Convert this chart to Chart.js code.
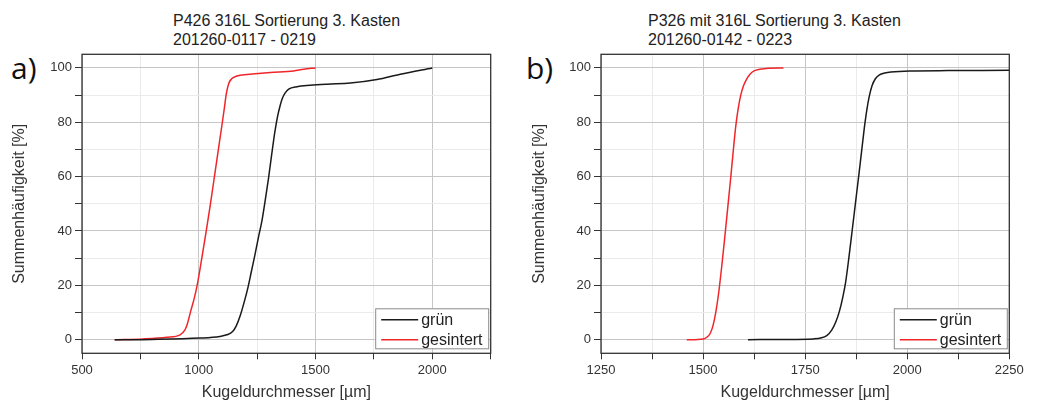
<!DOCTYPE html>
<html>
<head>
<meta charset="utf-8">
<script src="https://cdn.jsdelivr.net/npm/chart.js@4.4.1/dist/chart.umd.min.js"></script>
<style>
  html, body { margin: 0; padding: 0; background: #fff; }
  body { width: 1037px; height: 406px; position: relative; overflow: hidden; }
  canvas { position: absolute; top: 0; }
  .ttl { position: absolute; font-family: "Liberation Sans", Arial, sans-serif; font-size: 16px; line-height: 19px; color: #222; white-space: nowrap; }
  .lab { position: absolute; font-family: "Open Sans", "DejaVu Sans", sans-serif; font-size: 30px; line-height: 30px; color: #111; }
</style>
</head>
<body>
<div class="ttl" id="t1" style="left:173px; top:11px;"></div>
<div class="ttl" id="t2" style="left:648px; top:11px;"></div>
<div class="lab" style="left:11px; top:53px;">a)</div>
<div class="lab" style="left:526px; top:53px;">b)</div>
<canvas id="c1" width="520" height="406" style="left:0px"></canvas>
<canvas id="c2" width="517" height="406" style="left:520px"></canvas>
<script>
// ---------- data ----------
const titleA = ["P426 316L Sortierung 3. Kasten", "201260-0117 - 0219"];
const titleB = ["P326 mit 316L Sortierung 3. Kasten", "201260-0142 - 0223"];
const seriesNames = ["grün", "gesintert"];
const xAxisTitle = "Kugeldurchmesser [µm]";
const yAxisTitle = "Summenhäufigkeit [%]";

// chart a) gruen
const aGruenX = [640, 800, 1006, 1090, 1120, 1145, 1160, 1178, 1195, 1210, 1225, 1240, 1255, 1270, 1284, 1298, 1312, 1325, 1337, 1348, 1358, 1370, 1385, 1420, 1477, 1550, 1649, 1763, 1863, 2000];
const aGruenY = [0, 0.1, 0.6, 1.2, 1.8, 3, 5, 9, 14, 19, 25, 31, 37.5, 43.5, 51, 59, 68, 76, 82, 86, 88.8, 90.8, 92.2, 93.1, 93.6, 94, 94.4, 95.7, 97.7, 100];
// chart a) gesintert
const aSintX = [640, 760, 863, 920, 940, 950, 958, 966, 980, 993, 1013, 1032, 1050, 1067, 1084, 1101, 1110, 1118, 1128, 1141, 1160, 1177, 1240, 1306, 1406, 1449, 1500];
const aSintY = [0, 0.3, 0.9, 1.8, 3.5, 5.5, 8, 10.7, 15, 20, 30, 40, 50, 60, 70, 80, 85.5, 90.5, 94.2, 96, 96.9, 97.3, 97.8, 98.3, 98.9, 99.5, 100];
// chart b) gruen
const bGruenX = [1610, 1700, 1770, 1803, 1815, 1825, 1834, 1842, 1849, 1857, 1865, 1873, 1881, 1888, 1895, 1901, 1907, 1914, 1922, 1932, 1945, 1960, 2007, 2100, 2250];
const bGruenY = [0, 0.1, 0.3, 1.5, 3.5, 6.5, 10.5, 15.5, 21, 30, 40, 50, 60, 69, 78, 84.5, 89.5, 93.5, 96, 97.4, 98.1, 98.5, 98.9, 99.0, 99.1];
// chart b) gesintert
const bSintX = [1460, 1500, 1510, 1517, 1524, 1531, 1538, 1545, 1552, 1559, 1566, 1573, 1580, 1586, 1592, 1599, 1607, 1615, 1625, 1639, 1660, 1697];
const bSintY = [0, 0.3, 1, 2.2, 5, 10, 17, 26, 36, 46.5, 57, 68, 78.5, 85, 89.8, 93.4, 96, 97.7, 98.9, 99.5, 99.9, 100];

// axis ticks
const aXTicks = [500, 750, 1000, 1250, 1500, 1750, 2000, 2250];
const aXLabels = [500, 1000, 1500, 2000];
const bXTicks = [1250, 1375, 1500, 1625, 1750, 1875, 2000, 2125, 2250];
const bXLabels = [1250, 1500, 1750, 2000, 2250];
const yTicks = [0, 10, 20, 30, 40, 50, 60, 70, 80, 90, 100];
const yLabels = [0, 20, 40, 60, 80, 100];
const yRange = [-5, 105];
const aXRange = [500, 2250];
const bXRange = [1250, 2250];

// ---------- styling / build ----------
document.getElementById('t1').innerHTML = titleA.join('<br>');
document.getElementById('t2').innerHTML = titleB.join('<br>');

const FONT = '"Liberation Sans", Arial, sans-serif';
const pts = (xs, ys) => xs.map((x, i) => ({x: x, y: ys[i]}));

const framePlugin = {
  id: 'frame',
  afterDraw(chart) {
    const {ctx, chartArea: a} = chart;
    ctx.save();
    ctx.strokeStyle = '#333';
    ctx.lineWidth = 1.3;
    ctx.strokeRect(a.left, a.top, a.right - a.left, a.bottom - a.top);
    // legend
    const w = 113, h = 40;
    const x0 = a.right - 2.5 - w, y0 = a.bottom - 5 - h;
    ctx.fillStyle = '#fff';
    ctx.fillRect(x0, y0, w, h);
    ctx.strokeStyle = '#8a8a8a';
    ctx.lineWidth = 1;
    ctx.strokeRect(x0 + 0.5, y0 + 0.5, w, h);
    ctx.font = '16px ' + FONT;
    ctx.textBaseline = 'middle';
    ctx.textAlign = 'left';
    chart.data.datasets.forEach((ds, i) => {
      const yy = y0 + 11.5 + i * 20;
      ctx.strokeStyle = ds.borderColor;
      ctx.lineWidth = 1.5;
      ctx.beginPath();
      ctx.moveTo(x0 + 6, yy);
      ctx.lineTo(x0 + 43, yy);
      ctx.stroke();
      ctx.fillStyle = '#222';
      ctx.fillText(ds.label, x0 + 46, yy + 0.5);
    });
    ctx.restore();
  }
};

function makeChart(canvasId, gruen, sint, xTicks, xLabels, xRange, yAxisW, padRight) {
  return new Chart(document.getElementById(canvasId), {
    type: 'line',
    data: {
      datasets: [
        {label: seriesNames[0], data: gruen, borderColor: '#1a1a1a', borderWidth: 1.5, pointRadius: 0, cubicInterpolationMode: 'monotone', fill: false},
        {label: seriesNames[1], data: sint, borderColor: '#f0262b', borderWidth: 1.5, pointRadius: 0, cubicInterpolationMode: 'monotone', fill: false}
      ]
    },
    options: {
      responsive: false,
      animation: false,
      devicePixelRatio: 1,
      layout: {padding: {top: 54.3, right: padRight, bottom: 0, left: 0}},
      plugins: {legend: {display: false}, tooltip: {enabled: false}, title: {display: false}},
      scales: {
        x: {
          type: 'linear',
          min: xRange[0], max: xRange[1],
          afterBuildTicks: s => { s.ticks = xTicks.map(v => ({value: v})); },
          afterFit: s => { s.height = 52.7; },
          ticks: {
            autoSkip: false, maxRotation: 0, padding: 3, color: '#333',
            font: {family: FONT, size: 13},
            callback: v => xLabels.includes(v) ? String(v) : ''
          },
          grid: {
            color: c => (c.tick && xLabels.includes(c.tick.value)) ? '#c6c6c6' : '#ebebeb',
            lineWidth: 1, drawTicks: true, tickLength: 6, tickColor: '#333', tickWidth: 1
          },
          border: {display: false},
          title: {display: true, text: xAxisTitle, color: '#333', font: {family: FONT, size: 16}, padding: {top: 0, bottom: 3.4}}
        },
        y: {
          type: 'linear',
          min: yRange[0], max: yRange[1],
          afterBuildTicks: s => { s.ticks = yTicks.map(v => ({value: v})); },
          afterFit: s => { s.width = yAxisW; },
          ticks: {
            autoSkip: false, padding: 3, color: '#333',
            font: {family: FONT, size: 13},
            callback: v => yLabels.includes(v) ? String(v) : ''
          },
          grid: {
            color: c => (c.tick && yLabels.includes(c.tick.value)) ? '#c6c6c6' : '#ebebeb',
            lineWidth: 1, drawTicks: true, tickLength: 7, tickColor: '#333', tickWidth: 1
          },
          border: {display: false},
          title: {display: true, text: yAxisTitle, color: '#333', font: {family: FONT, size: 16}, padding: {top: 10, bottom: 0}}
        }
      }
    },
    plugins: [framePlugin]
  });
}

makeChart('c1', pts(aGruenX, aGruenY), pts(aSintX, aSintY), aXTicks, aXLabels, aXRange, 82, 29.3);
makeChart('c2', pts(bGruenX, bGruenY), pts(bSintX, bSintY), bXTicks, bXLabels, bXRange, 81, 27.7);
</script>
</body>
</html>
